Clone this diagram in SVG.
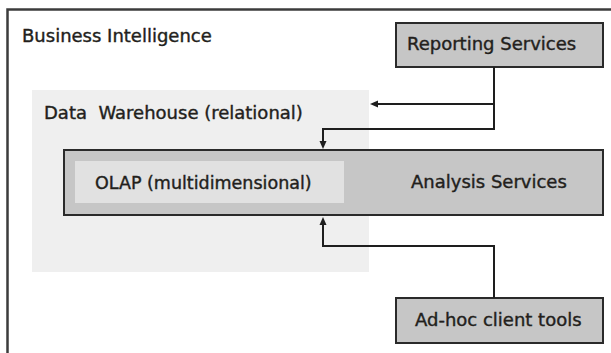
<svg xmlns="http://www.w3.org/2000/svg" width="611" height="353" viewBox="0 0 611 353">
<style>
text{font-family:"DejaVu Sans","Liberation Sans",sans-serif;font-size:18px;fill:#231f1c;stroke:#231f1c;stroke-width:0.4}
.box{fill:#c6c6c6;stroke:#2a2a2a;stroke-width:2}
.conn{fill:none;stroke:#1e1e1e;stroke-width:2}
</style>
<defs>
<marker id="ah" viewBox="0 0 8 8" markerWidth="8" markerHeight="8" markerUnits="userSpaceOnUse" refX="3" refY="4" orient="auto">
<path d="M0,0.5 L8,4 L0,7.5 z" fill="#1e1e1e"/>
</marker>
</defs>
<rect width="611" height="353" fill="#fff"/>
<g id="bi">
<path d="M7.5,353 V9.5 H611" fill="none" stroke="#3c3c3c" stroke-width="2.5"/>
<text x="22" y="42">Business Intelligence</text>
</g>
<g id="dw">
<rect x="32" y="90" width="337" height="182" fill="#efefef"/>
<text x="44" y="119" xml:space="preserve">Data  Warehouse (relational)</text>
</g>
<g id="as">
<rect class="box" x="64" y="150" width="539" height="65"/>
<text x="411" y="188">Analysis Services</text>
</g>
<g id="olap">
<rect x="75" y="161" width="269" height="42" fill="#e1e1e1"/>
<text x="95" y="189" style="font-size:17.5px">OLAP (multidimensional)</text>
</g>
<g id="rs">
<rect class="box" x="396" y="23" width="207" height="44"/>
<text x="407" y="50">Reporting Services</text>
</g>
<g id="adhoc">
<rect class="box" x="396" y="298" width="207" height="45"/>
<text x="415" y="326">Ad-hoc client tools</text>
</g>
<g id="connectors">
<path class="conn" d="M494,67 V129 H323 V144" marker-end="url(#ah)"/>
<path class="conn" d="M494,104 H375" marker-end="url(#ah)"/>
<path class="conn" d="M494,298 V246 H323 V222" marker-end="url(#ah)"/>
</g>
</svg>
